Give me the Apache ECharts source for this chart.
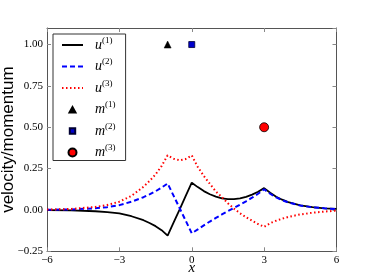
<!DOCTYPE html>
<html>
<head>
<meta charset="utf-8">
<script src="https://cdn.jsdelivr.net/npm/echarts@6/dist/echarts.min.js"></script>
<style>html,body{margin:0;padding:0;background:#fff}#c{width:374px;height:280px}</style>
</head>
<body>
<div id="c"></div>
<script>
var xs = [-6,-5,-4,-3.5,-3,-2.5,-2,-1.75,-1.5,-1.25,-1,-0.75,-0.5,-0.25,0,0.25,0.5,0.75,1,1.25,1.5,1.75,2,2.25,2.5,2.75,3,3.25,3.5,3.75,4,4.5,5,5.5,6];
var u1 = [-0.001,-0.003,-0.008,-0.013,-0.021,-0.038,-0.062,-0.079,-0.098,-0.122,-0.155,-0.075,0.004,0.085,0.165,0.138,0.114,0.095,0.081,0.070,0.065,0.065,0.070,0.079,0.093,0.110,0.132,0.104,0.080,0.062,0.047,0.028,0.017,0.010,0.006];
var u2 = [0.001,0.003,0.010,0.017,0.029,0.050,0.077,0.094,0.113,0.135,0.160,0.085,0.010,-0.065,-0.141,-0.118,-0.093,-0.070,-0.048,-0.027,-0.007,0.012,0.032,0.052,0.074,0.098,0.125,0.098,0.076,0.059,0.045,0.027,0.016,0.010,0.005];
var u3 = [0.002,0.006,0.018,0.030,0.050,0.085,0.140,0.175,0.215,0.265,0.330,0.310,0.300,0.308,0.330,0.260,0.205,0.158,0.112,0.078,0.040,0.008,-0.020,-0.044,-0.065,-0.085,-0.102,-0.080,-0.065,-0.053,-0.042,-0.027,-0.017,-0.010,-0.004];
var mX = [-1, 0, 3];
var mY = [1.0, 1.0, 0.5];
var seriesNames = ['u(1)','u(2)','u(3)','m(1)','m(2)','m(3)'];

function pairs(a){ return xs.map(function(x,i){ return [x, a[i]]; }); }
function minus(s){ return String(s).replace('-', '\u2212'); }

var chart = echarts.init(document.getElementById('c'), null, {renderer:'canvas'});
var serif = 'Liberation Serif';
var axisCol = '#555';
var tickStyle = {show:true, inside:true, length:4, lineStyle:{color:'#888', width:1}};
var lineAxis = {show:true, onZero:false, lineStyle:{color:axisCol, width:1}};
// legend icons drawn in a 21x8 box (extra moveTo points keep the box, so shapes keep their aspect)
var legendIcons = [null, null, null,
  'path://M0,0M21,8M7.5,7L10.5,1.5L13.5,7Z',
  'path://M0,0M21,8M7.8,1.3L13.2,1.3L13.2,6.7L7.8,6.7Z',
  'circle'];
var option = {
  animation:false,
  backgroundColor:'#fff',
  grid:{left:47, right:37.5, top:28, bottom:28.7, containLabel:false, outerBoundsMode:'none'},
  legend:{
    orient:'vertical', left:53, top:34,
    itemWidth:21, itemHeight:8, itemGap:5.5,
    padding:[2,10,1,8],
    backgroundColor:'#fff', borderColor:'#333', borderWidth:1, borderRadius:0,
    data: seriesNames.map(function(n, k){
      return k < 3 ? {name:n, itemStyle:{opacity:0}} : {name:n, icon:legendIcons[k]};
    }),
    formatter:function(n){ return '{g|}{i|' + n.charAt(0) + '}{s|' + n.slice(1) + '}'; },
    textStyle:{
      color:'#000',
      rich:{
        g:{width:7},
        i:{fontFamily:serif, fontStyle:'italic', fontSize:14, lineHeight:18, color:'#000'},
        s:{fontFamily:serif, fontSize:9, lineHeight:10, verticalAlign:'top', color:'#000'}
      }
    }
  },
  xAxis:[{
    type:'value', min:-6, max:6, interval:3,
    name:'x', nameLocation:'middle', nameGap:9, nameMoveOverlap:false,
    nameTextStyle:{fontFamily:serif, fontStyle:'italic', fontSize:15, color:'#000'},
    axisLine:lineAxis,
    axisTick:tickStyle,
    axisLabel:{fontFamily:serif, fontSize:11, color:'#000', margin:3, formatter:minus},
    splitLine:{show:false}
  },{
    type:'value', position:'top', min:-6, max:6, interval:3,
    axisLine:lineAxis,
    axisTick:tickStyle, axisLabel:{show:false}, splitLine:{show:false}
  }],
  yAxis:[{
    type:'value', min:-0.25, max:1.1, interval:0.25,
    name:'velocity/momentum', nameLocation:'middle', nameGap:30, nameRotate:90, nameMoveOverlap:false,
    nameTextStyle:{fontFamily:'Liberation Sans', fontSize:17, color:'#000'},
    axisLine:lineAxis,
    axisTick:tickStyle,
    axisLabel:{fontFamily:serif, fontSize:11, color:'#000', margin:4, showMaxLabel:false,
      formatter:function(v){ return minus(v.toFixed(2)); }},
    splitLine:{show:false}
  },{
    type:'value', position:'right', min:-0.25, max:1.1, interval:0.25,
    axisLine:lineAxis,
    axisTick:tickStyle, axisLabel:{show:false}, splitLine:{show:false}
  }],
  series:[
    {name:'u(1)', type:'line', data:pairs(u1), showSymbol:false, symbol:'none',
      lineStyle:{color:'#000', width:1.8, type:'solid'}, itemStyle:{color:'#000'}},
    {name:'u(2)', type:'line', data:pairs(u2), showSymbol:false, symbol:'none',
      lineStyle:{color:'#0000ff', width:2, type:[5,3]}, itemStyle:{color:'#0000ff'}},
    {name:'u(3)', type:'line', data:pairs(u3), showSymbol:false, symbol:'none',
      lineStyle:{color:'#ff0000', width:2, type:[1.5,2.5]}, itemStyle:{color:'#ff0000'}},
    {name:'m(1)', type:'scatter', data:[[mX[0], mY[0]]], symbol:'triangle', symbolSize:7,
      itemStyle:{color:'#000', borderColor:'#000', borderWidth:0.5, opacity:1}},
    {name:'m(2)', type:'scatter', data:[[mX[1], mY[1]]], symbol:'rect', symbolSize:6,
      itemStyle:{color:'#0000cc', borderColor:'#000033', borderWidth:0.8, opacity:1}},
    {name:'m(3)', type:'scatter', data:[[mX[2], mY[2]]], symbol:'circle', symbolSize:9,
      itemStyle:{color:'#ff0000', borderColor:'#000', borderWidth:0.8, opacity:1}}
  ]
};
chart.setOption(option);
</script>
</body>
</html>
